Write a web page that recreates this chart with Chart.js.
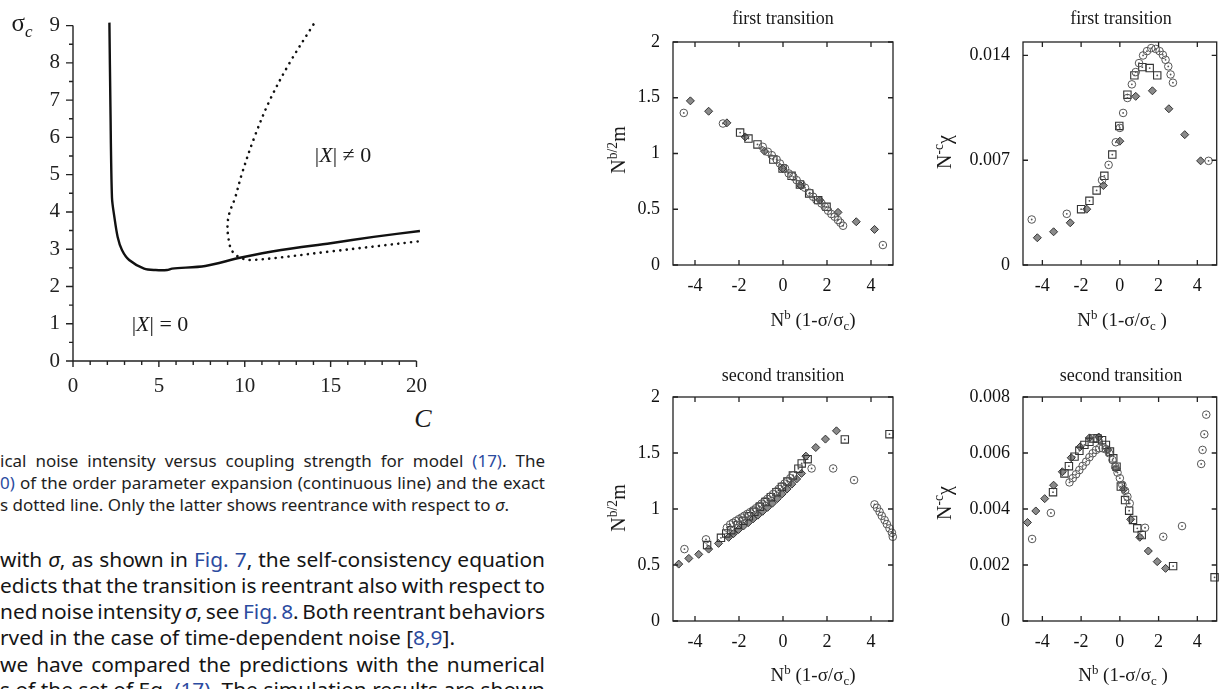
<!DOCTYPE html>
<html>
<head>
<meta charset="utf-8">
<script src="https://cdn.jsdelivr.net/npm/chart.js@4.4.0/dist/chart.umd.min.js"></script>
<style>
  body { margin: 0; width: 1223px; height: 689px; overflow: hidden; background: #fff; position: relative;
         font-family: 'Liberation Serif', 'Times New Roman', serif; color: #1a1a1a; }
  canvas { position: absolute; }
  .lbl { position: absolute; white-space: nowrap; transform: translate(-50%, -50%); line-height: 1; }
  .rot { position: absolute; white-space: nowrap; transform: translate(-50%, -50%) rotate(-90deg); line-height: 1; font-size: 20px; }
  .lbl sup, .rot sup { font-size: 0.68em; vertical-align: 0.55em; }
  .lbl sub, .rot sub { font-size: 0.68em; vertical-align: -0.3em; }
  .ttl { font-size: 18px; }
  .xl { font-size: 19px; }
  .ln { position: absolute; left: 0; white-space: nowrap; transform-origin: 0 50%; line-height: 1;
        font-family: 'Noto Sans', 'Open Sans', sans-serif; }
  .cap { font-size: 15.5px; color: #1e1e1e; }
  .txt { font-size: 19.5px; color: #151515; }
  .ln a { color: #2b4ba0; text-decoration: none; }
</style>
</head>
<body>
<canvas id="phase" width="440" height="400" style="left:0;top:0"></canvas>
<canvas id="m1" width="310" height="340" style="left:600px;top:0"></canvas>
<canvas id="chi1" width="313" height="340" style="left:910px;top:0"></canvas>
<canvas id="m2" width="310" height="349" style="left:600px;top:340px"></canvas>
<canvas id="chi2" width="313" height="349" style="left:910px;top:340px"></canvas>

<!-- left figure labels -->
<div class="lbl" style="left:22px;top:25px;font-size:25px">σ<sub><i>c</i></sub></div>
<div class="lbl" style="left:343px;top:155px;font-size:22px">|<i>X</i>| ≠ 0</div>
<div class="lbl" style="left:160px;top:324px;font-size:22px">|<i>X</i>| = 0</div>
<div class="lbl" style="left:423px;top:419px;font-size:26px"><i>C</i></div>

<!-- right panels labels -->
<div class="lbl ttl" style="left:783px;top:18px">first transition</div>
<div class="lbl ttl" style="left:1121px;top:18px">first transition</div>
<div class="lbl ttl" style="left:783px;top:375px">second transition</div>
<div class="lbl ttl" style="left:1121px;top:375px">second transition</div>
<div class="lbl xl" style="left:813px;top:321px">N<sup>b</sup> (1-σ/σ<sub>c</sub>)</div>
<div class="lbl xl" style="left:1122px;top:321px">N<sup>b</sup> (1-σ/σ<sub>c</sub> )</div>
<div class="lbl xl" style="left:813px;top:676px">N<sup>b</sup> (1-σ/σ<sub>c</sub>)</div>
<div class="lbl xl" style="left:1123px;top:676px">N<sup>b</sup> (1-σ/σ<sub>c</sub> )</div>
<div class="rot" style="left:617px;top:150px">N<sup>b/2</sup>m</div>
<div class="rot" style="left:943px;top:152px">N<sup>-c</sup>χ</div>
<div class="rot" style="left:617px;top:508px">N<sup>b/2</sup>m</div>
<div class="rot" style="left:943px;top:503px">N<sup>-c</sup>χ</div>

<!-- caption and body text -->
<span class="ln cap" data-block="cap" data-end="545" data-just="1" style="top:454px">ical noise intensity versus coupling strength for model <a>(17)</a>. The</span>
<span class="ln cap" data-block="cap" data-end="545" data-just="1" style="top:476px"><a>0)</a> of the order parameter expansion (continuous line) and the exact</span>
<span class="ln cap" data-block="cap" data-end="509" style="top:498px">s dotted line. Only the latter shows reentrance with respect to <i>σ</i>.</span>
<span class="ln txt" data-block="txt" data-end="545" data-just="1" style="top:550px">with <i>σ</i>, as shown in <a>Fig. 7</a>, the self-consistency equation</span>
<span class="ln txt" data-block="txt" data-end="545" data-just="1" style="top:576px">edicts that the transition is reentrant also with respect to</span>
<span class="ln txt" data-block="txt" data-end="545" data-just="1" style="top:602px">ned noise intensity <i>σ</i>, see <a>Fig. 8</a>. Both reentrant behaviors</span>
<span class="ln txt" data-block="txt" data-end="455" style="top:628px">rved in the case of time-dependent noise [<a>8,9</a>].</span>
<span class="ln txt" data-block="txt" data-end="545" data-just="1" style="top:655px">we have compared the predictions with the numerical</span>
<span class="ln txt" data-block="txt" data-end="545" data-just="1" style="top:680px">s of the set of Eq. <a>(17)</a>. The simulation results are shown</span>

<script>
// phase diagram: critical noise sigma_c versus coupling C
const solidC     = [2.12, 2.18, 2.27, 2.41, 2.60, 2.85, 3.27, 4.14, 4.81, 5.48, 5.77, 7.70, 9.72, 12.12, 15.0, 17.5, 20.2];
const solidSigma = [9.08, 6.81, 4.38, 3.86, 3.33, 2.98, 2.71, 2.48, 2.44, 2.44, 2.48, 2.55, 2.77, 2.98, 3.16, 3.33, 3.49];
const dotC       = [14.0, 12.6, 11.45, 10.55, 9.81, 9.44, 9.12, 9.00, 9.04, 9.23, 9.66, 10.39, 15.0, 20.1];
const dotSigma   = [9.03, 7.99, 6.99, 5.99, 4.99, 4.38, 3.99, 3.68, 3.33, 2.98, 2.79, 2.71, 2.94, 3.21];
const phaseXTicks = [0, 5, 10, 15, 20];
const phaseYTicks = [0, 1, 2, 3, 4, 5, 6, 7, 8, 9];

// scaling plots
const scaledXTicks = [-4, -2, 0, 2, 4];
const mYTicks = [0, 0.5, 1, 1.5, 2];
const chi1YTicks = [0, 0.007, 0.014];
const chi2YTicks = [0, 0.002, 0.004, 0.006, 0.008];

// first transition, N^{b/2} m
const m1Circles = [[-4.51,1.364],[-2.73,1.269],[-0.92,1.060],[-0.69,1.015],[-0.51,0.985],[-0.29,0.946],[-0.14,0.910],
  [0.09,0.866],[0.26,0.821],[0.47,0.791],[0.62,0.761],[0.84,0.722],[1.00,0.693],[1.22,0.648],[1.37,0.612],[1.52,0.582],
  [1.75,0.552],[1.90,0.522],[2.05,0.487],[2.20,0.457],[2.35,0.433],[2.50,0.403],[2.61,0.379],[2.73,0.352],[4.54,0.179]];
const m1Squares = [[-1.95,1.188],[-1.57,1.134],[-1.16,1.081],[-0.44,0.946],[-0.02,0.866],[0.39,0.800],[0.77,0.722],
  [1.19,0.642],[1.60,0.582],[1.98,0.522]];
const m1Diamonds = [[-4.21,1.472],[-3.38,1.379],[-2.55,1.275],[-1.72,1.149],[-0.84,1.021],[-0.02,0.866],[0.81,0.710],
  [1.67,0.582],[2.50,0.472],[3.33,0.388],[4.16,0.319]];

// first transition, N^{-c} chi
const chi1Circles = [[-4.55,0.00304],[-2.74,0.00342],[-0.92,0.00567],[-0.58,0.00669],[-0.21,0.00820],[0.00,0.00916],
  [0.17,0.01016],[0.39,0.01116],[0.62,0.01207],[0.82,0.01289],[0.99,0.01349],[1.20,0.01400],[1.40,0.01429],[1.62,0.01449],
  [1.85,0.01444],[2.05,0.01429],[2.22,0.01404],[2.36,0.01371],[2.50,0.01327],[2.62,0.01273],[2.74,0.01218],[4.58,0.00696]];
const chi1Squares = [[-2.00,0.00373],[-1.57,0.00429],[-1.20,0.00498],[-0.80,0.00596],[-0.39,0.00738],[-0.03,0.00929],
  [0.39,0.01138],[0.75,0.01267],[1.16,0.01322],[1.54,0.01316],[1.93,0.01267]];
const chi1Diamonds = [[-4.26,0.00182],[-3.42,0.00222],[-2.56,0.00282],[-1.71,0.00373],[-0.85,0.00531],[0.00,0.00827],
  [0.82,0.01127],[1.68,0.01164],[2.53,0.01044],[3.35,0.00871],[4.17,0.00696]];

// second transition, N^{b/2} m
const m2Circles = [[-4.48,0.642],[-3.50,0.729],[-2.55,0.833],[-2.40,0.862],[-2.27,0.877],[-2.14,0.893],[-2.01,0.909],
  [-1.88,0.924],[-1.75,0.940],[-1.62,0.956],[-1.49,0.972],[-1.36,0.988],[-1.23,1.007],[-1.10,1.027],[-0.97,1.048],
  [-0.84,1.069],[-0.71,1.090],[-0.58,1.111],[-0.45,1.134],[-0.32,1.157],[-0.19,1.180],[-0.06,1.203],[0.07,1.227],
  [0.20,1.250],[0.33,1.275],[0.46,1.300],[1.30,1.362],[2.28,1.362],[3.23,1.258],[4.16,1.041],[4.27,1.011],[4.39,0.975],
  [4.49,0.939],[4.62,0.901],[4.72,0.865],[4.84,0.827],[4.95,0.788],[4.99,0.752]];
const m2Squares = [[-3.45,0.678],[-2.82,0.743],[-2.58,0.782],[-2.35,0.811],[-2.05,0.858],[-1.80,0.895],[-1.55,0.935],
  [-1.30,0.975],[-1.05,1.020],[-0.80,1.062],[-0.55,1.105],[-0.30,1.150],[-0.05,1.197],[0.20,1.245],[0.45,1.300],
  [0.70,1.360],[0.85,1.407],[1.12,1.445],[2.81,1.621],[4.84,1.668]];
const m2Diamonds = [[-4.74,0.508],[-4.28,0.559],[-3.83,0.595],[-3.38,0.642],[-2.93,0.693],[-2.47,0.747],[-2.25,0.780],
  [-2.02,0.817],[-1.80,0.848],[-1.58,0.878],[-1.36,0.912],[-1.14,0.945],[-0.92,0.980],[-0.70,1.015],[-0.48,1.052],
  [-0.26,1.092],[-0.04,1.135],[0.18,1.178],[0.40,1.222],[0.62,1.268],[0.84,1.318],[1.04,1.472],[1.49,1.549],
  [1.93,1.624],[2.43,1.698]];

// second transition, N^{-c} chi
const chi2Circles = [[-4.53,0.00293],[-3.56,0.00386],[-2.60,0.00495],[-2.43,0.00510],[-2.26,0.00524],[-2.09,0.00539],
  [-1.92,0.00554],[-1.74,0.00569],[-1.57,0.00585],[-1.40,0.00599],[-1.23,0.00611],[-1.06,0.00617],[-0.89,0.00617],
  [-0.72,0.00613],[-0.55,0.00599],[-0.38,0.00575],[-0.24,0.00551],[-0.12,0.00530],[0.00,0.00510],[0.13,0.00486],
  [0.27,0.00465],[0.39,0.00444],[0.51,0.00420],[1.30,0.00333],[2.24,0.00301],[3.21,0.00339],[4.20,0.00561],
  [4.27,0.00611],[4.36,0.00667],[4.46,0.00737]];
const chi2Squares = [[-3.45,0.00460],[-2.86,0.00527],[-2.63,0.00553],[-2.34,0.00587],[-2.09,0.00608],[-1.83,0.00629],
  [-1.57,0.00640],[-1.37,0.00652],[-1.15,0.00652],[-0.92,0.00646],[-0.72,0.00629],[-0.51,0.00605],[-0.34,0.00581],
  [-0.17,0.00551],[0.05,0.00480],[0.27,0.00432],[0.48,0.00394],[0.68,0.00361],[0.90,0.00331],[1.13,0.00307],
  [2.75,0.00196],[4.89,0.00156]];
const chi2Diamonds = [[-4.77,0.00352],[-4.34,0.00393],[-3.88,0.00437],[-3.42,0.00485],[-2.97,0.00533],[-2.51,0.00583],
  [-2.05,0.00622],[-1.57,0.00654],[-1.09,0.00657],[-0.62,0.00612],[-0.20,0.00545],[0.20,0.00470],[0.56,0.00363],
  [1.03,0.00299],[1.47,0.00250],[1.93,0.00212],[2.36,0.00188]];

Chart.defaults.font.family = "'Liberation Serif', 'Times New Roman', serif";
Chart.defaults.color = '#222';
Chart.defaults.animation = false;
Chart.defaults.events = [];
Chart.defaults.plugins.legend.display = false;
Chart.defaults.plugins.tooltip.enabled = false;

function pts(list) { return list.map(p => ({x: p[0], y: p[1]})); }

// left axes with outward major/minor ticks
const phaseAxes = {
  id: 'phaseAxes',
  afterDraw(chart) {
    const {ctx, chartArea: a, scales: {x, y}} = chart;
    ctx.save();
    ctx.strokeStyle = '#222';
    ctx.lineWidth = 1.4;
    ctx.beginPath();
    ctx.moveTo(a.left, a.top);
    ctx.lineTo(a.left, a.bottom);
    ctx.lineTo(a.right, a.bottom);
    for (let v = 0; v <= 20; v++) {
      const px = x.getPixelForValue(v);
      ctx.moveTo(px, a.bottom);
      ctx.lineTo(px, a.bottom + (v % 5 === 0 ? 6 : 4));
    }
    for (let v = 0; v <= 9; v += 0.5) {
      const py = y.getPixelForValue(v);
      ctx.moveTo(a.left, py);
      ctx.lineTo(a.left - (v % 1 === 0 ? 7 : 4), py);
    }
    ctx.stroke();
    ctx.restore();
  }
};

// gnuplot style frame, ticks inside on all four sides, plus the small dot inside open markers
const frame = {
  id: 'frame',
  afterDatasetsDraw(chart) {
    const ctx = chart.ctx;
    ctx.save();
    ctx.fillStyle = '#555';
    [0, 1].forEach(i => {
      chart.getDatasetMeta(i).data.forEach(el => {
        ctx.beginPath();
        ctx.arc(el.x, el.y, 0.9, 0, Math.PI * 2);
        ctx.fill();
      });
    });
    ctx.restore();
  },
  afterDraw(chart, args, opts) {
    const {ctx, chartArea: a, scales: {x, y}} = chart;
    ctx.save();
    ctx.strokeStyle = '#222';
    ctx.lineWidth = 1.3;
    ctx.strokeRect(a.left, a.top, a.right - a.left, a.bottom - a.top);
    ctx.beginPath();
    opts.xTicks.forEach(v => {
      const px = x.getPixelForValue(v);
      ctx.moveTo(px, a.bottom); ctx.lineTo(px, a.bottom - 5);
      ctx.moveTo(px, a.top); ctx.lineTo(px, a.top + 5);
    });
    opts.yTicks.forEach(v => {
      const py = y.getPixelForValue(v);
      ctx.moveTo(a.left, py); ctx.lineTo(a.left + 5, py);
      ctx.moveTo(a.right, py); ctx.lineTo(a.right - 5, py);
    });
    ctx.stroke();
    ctx.restore();
  }
};

new Chart(document.getElementById('phase'), {
  type: 'scatter',
  data: {
    datasets: [
      { data: solidC.map((c, i) => ({x: c, y: solidSigma[i]})), showLine: true, borderColor: '#111',
        borderWidth: 2.4, pointRadius: 0, tension: 0.3, clip: false },
      { data: dotC.map((c, i) => ({x: c, y: dotSigma[i]})), showLine: true, borderColor: '#111',
        borderWidth: 2.6, borderDash: [0.1, 6.4], borderCapStyle: 'round', pointRadius: 0, tension: 0.35, clip: false }
    ]
  },
  options: {
    responsive: false,
    layout: { padding: { top: 16, right: 20, left: 0, bottom: 0 } },
    scales: {
      x: { type: 'linear', min: 0, max: 20,
           grid: { display: false, drawTicks: false }, border: { display: false },
           ticks: { font: { size: 21 }, padding: 13, color: '#222' },
           afterBuildTicks: s => { s.ticks = phaseXTicks.map(v => ({value: v})); },
           afterFit: s => { s.height = 39; } },
      y: { type: 'linear', min: 0, max: 9,
           grid: { display: false, drawTicks: false }, border: { display: false },
           ticks: { font: { size: 21 }, padding: 13, color: '#222' },
           afterBuildTicks: s => { s.ticks = phaseYTicks.map(v => ({value: v})); },
           afterFit: s => { s.width = 73; } }
    }
  },
  plugins: [phaseAxes]
});

function markers(circles, squares, diamonds) {
  return [
    { data: pts(circles), pointStyle: 'circle', pointRadius: 3.8, pointBorderWidth: 1,
      pointBorderColor: '#555', pointBackgroundColor: 'rgba(255,255,255,0)', clip: false },
    { data: pts(squares), pointStyle: 'rect', pointRadius: 5.2, pointBorderWidth: 1.1,
      pointBorderColor: '#333', pointBackgroundColor: 'rgba(255,255,255,0)', clip: false },
    { data: pts(diamonds), pointStyle: 'rectRot', pointRadius: 4, pointBorderWidth: 1,
      pointBorderColor: '#333', pointBackgroundColor: '#8a8a8a', clip: false }
  ];
}

function panel(id, datasets, yTicks, ymax, yWidth, xHeight, top, right) {
  new Chart(document.getElementById(id), {
    type: 'scatter',
    data: { datasets },
    options: {
      responsive: false,
      layout: { padding: { top: top, right: right, left: 0, bottom: 0 } },
      scales: {
        x: { type: 'linear', min: -5, max: 5,
             grid: { display: false, drawTicks: false }, border: { display: false },
             ticks: { font: { size: 18 }, padding: 10, color: '#111' },
             afterBuildTicks: s => { s.ticks = scaledXTicks.map(v => ({value: v})); },
             afterFit: s => { s.height = xHeight; } },
        y: { type: 'linear', min: 0, max: ymax,
             grid: { display: false, drawTicks: false }, border: { display: false },
             ticks: { font: { size: 18 }, padding: 13, color: '#111', callback: v => String(v) },
             afterBuildTicks: s => { s.ticks = yTicks.map(v => ({value: v})); },
             afterFit: s => { s.width = yWidth; } }
      },
      plugins: { frame: { xTicks: scaledXTicks, yTicks: yTicks } }
    },
    plugins: [frame]
  });
}

panel('m1', markers(m1Circles, m1Squares, m1Diamonds), mYTicks, 2, 73, 75, 42, 17);
panel('chi1', markers(chi1Circles, chi1Squares, chi1Diamonds), chi1YTicks, 0.0149, 113, 75, 42, 5);
panel('m2', markers(m2Circles, m2Squares, m2Diamonds), mYTicks, 2, 73, 68, 57, 17);
panel('chi2', markers(chi2Circles, chi2Squares, chi2Diamonds), chi2YTicks, 0.008, 113, 68, 57, 5);

// squeeze the clipped text lines to the column width, justifying where needed
function fitText(block) {
  const lines = [...document.querySelectorAll('.ln')].filter(l => l.dataset.block === block);
  const widths = lines.map(l => l.getBoundingClientRect().width);
  const ref = lines.findIndex(l => !l.dataset.just);
  const k = (+lines[ref].dataset.end) / widths[ref];
  lines.forEach((l, i) => {
    if (l.dataset.just) {
      const gaps = (l.textContent.match(/ /g) || []).length;
      l.style.wordSpacing = ((+l.dataset.end / k - widths[i]) / gaps) + 'px';
    }
    l.style.transform = 'scaleX(' + k + ')';
  });
}
fitText('cap');
fitText('txt');
</script>
</body>
</html>
